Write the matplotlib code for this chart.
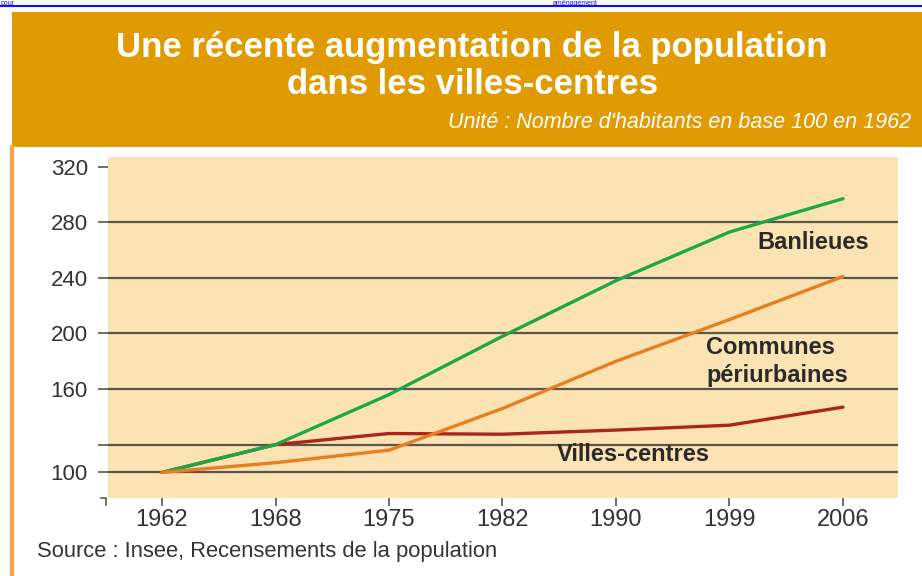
import matplotlib.pyplot as plt
from matplotlib.patches import Rectangle
from matplotlib.lines import Line2D

# Données (base 100 en 1962)
annees = ['1962', '1968', '1975', '1982', '1990', '1999', '2006']
banlieues = [100, 120, 156, 198, 238, 273, 297]
periurbaines = [100, 107, 116, 146, 180, 210, 241]
villes_centres = [100, 120, 128, 127.5, 130.5, 134, 147]

grille = [100, 120, 160, 200, 240, 280]
ticks_y = [100, 120, 160, 200, 240, 280, 320]
labels_y = ['100', '', '160', '200', '240', '280', '320']

W, H = 922, 576
fig = plt.figure(figsize=(W / 100, H / 100), dpi=100)
fig.patch.set_facecolor('white')

def fx(px):
    return px / W

def fy(py):
    return 1 - py / H

sans = ['Liberation Sans', 'DejaVu Sans']

# Bandeau de titre
fig.add_artist(Rectangle((fx(12), fy(147)), 1 - fx(12), fy(12) - fy(147),
                         transform=fig.transFigure, facecolor='#E09B02', edgecolor='none'))
fig.add_artist(Line2D([fx(12), fx(12)], [0, fy(147)], transform=fig.transFigure,
                      color='#F3A548', lw=3))
# lien en haut de la page
fig.add_artist(Line2D([0, 1], [fy(6), fy(6)], transform=fig.transFigure, color='#1010EE', lw=1.5))
fig.text(fx(1), fy(5), 'pour', color='#1010EE', fontsize=5, va='baseline', family=sans)
fig.text(fx(553), fy(5), 'aménagement', color='#1010EE', fontsize=5, va='baseline', family=sans)

fig.text(fx(472), fy(48), 'Une récente augmentation de la population', color='white',
         fontsize=25, fontweight='bold', family=sans, ha='center', va='center')
fig.text(fx(472), fy(85), 'dans les villes-centres', color='white',
         fontsize=25, fontweight='bold', family=sans, ha='center', va='center')
fig.text(fx(448), fy(122), "Unité : Nombre d'habitants en base 100 en 1962", color='white',
         fontsize=15.5, style='italic', family=sans, ha='left', va='center')

# Graphique
ax = fig.add_axes([fx(108), fy(498), fx(898) - fx(108), fy(157) - fy(498)])
ax.set_facecolor('#FBE3B4')
for s in ax.spines.values():
    s.set_visible(False)

x = list(range(len(annees)))
for v in grille:
    ax.axhline(v, color='#5A5550', lw=1.6, zorder=1)

ax.plot(x, banlieues, color='#1DA846', lw=2.4, zorder=3, solid_capstyle='round')
ax.plot(x, villes_centres, color='#A8261C', lw=2.4, zorder=2, solid_capstyle='round')
ax.plot(x, periurbaines, color='#E87D22', lw=2.4, zorder=3, solid_capstyle='round')

ax.set_xlim(-0.476, 6.485)
ax.set_ylim(81.6, 327)

ax.set_xticks(x, annees)
ax.set_yticks(ticks_y, labels_y)
ax.tick_params(axis='y', length=7.5, width=1.2, color='#5A5550', pad=7,
               labelsize=16, labelcolor='#333333')
ax.tick_params(axis='x', length=6, width=1.2, color='#5A5550', pad=2,
               labelsize=17, labelcolor='#333333')
for t in ax.get_xticklabels() + ax.get_yticklabels():
    t.set_family(sans)

# petite marque au coin inférieur gauche
fig.add_artist(Line2D([fx(101), fx(106), fx(106)], [fy(498), fy(498), fy(505)],
                      transform=fig.transFigure, color='#5A5550', lw=1.2))

lab = dict(fontsize=17, fontweight='bold', color='#2A2A2A', family=sans,
           va='center', ha='left')
ax.text(5.242, 265.8, 'Banlieues', **lab)
ax.text(4.793, 190.2, 'Communes', **lab)
ax.text(4.793, 169.4, 'périurbaines', **lab)
ax.text(3.48, 113.2, 'Villes-centres', **lab)

fig.text(fx(37), fy(552), 'Source : Insee, Recensements de la population', color='#333333',
         fontsize=15.8, family=sans, va='center', ha='left')

fig.savefig('out.png', dpi=100, facecolor='white')
